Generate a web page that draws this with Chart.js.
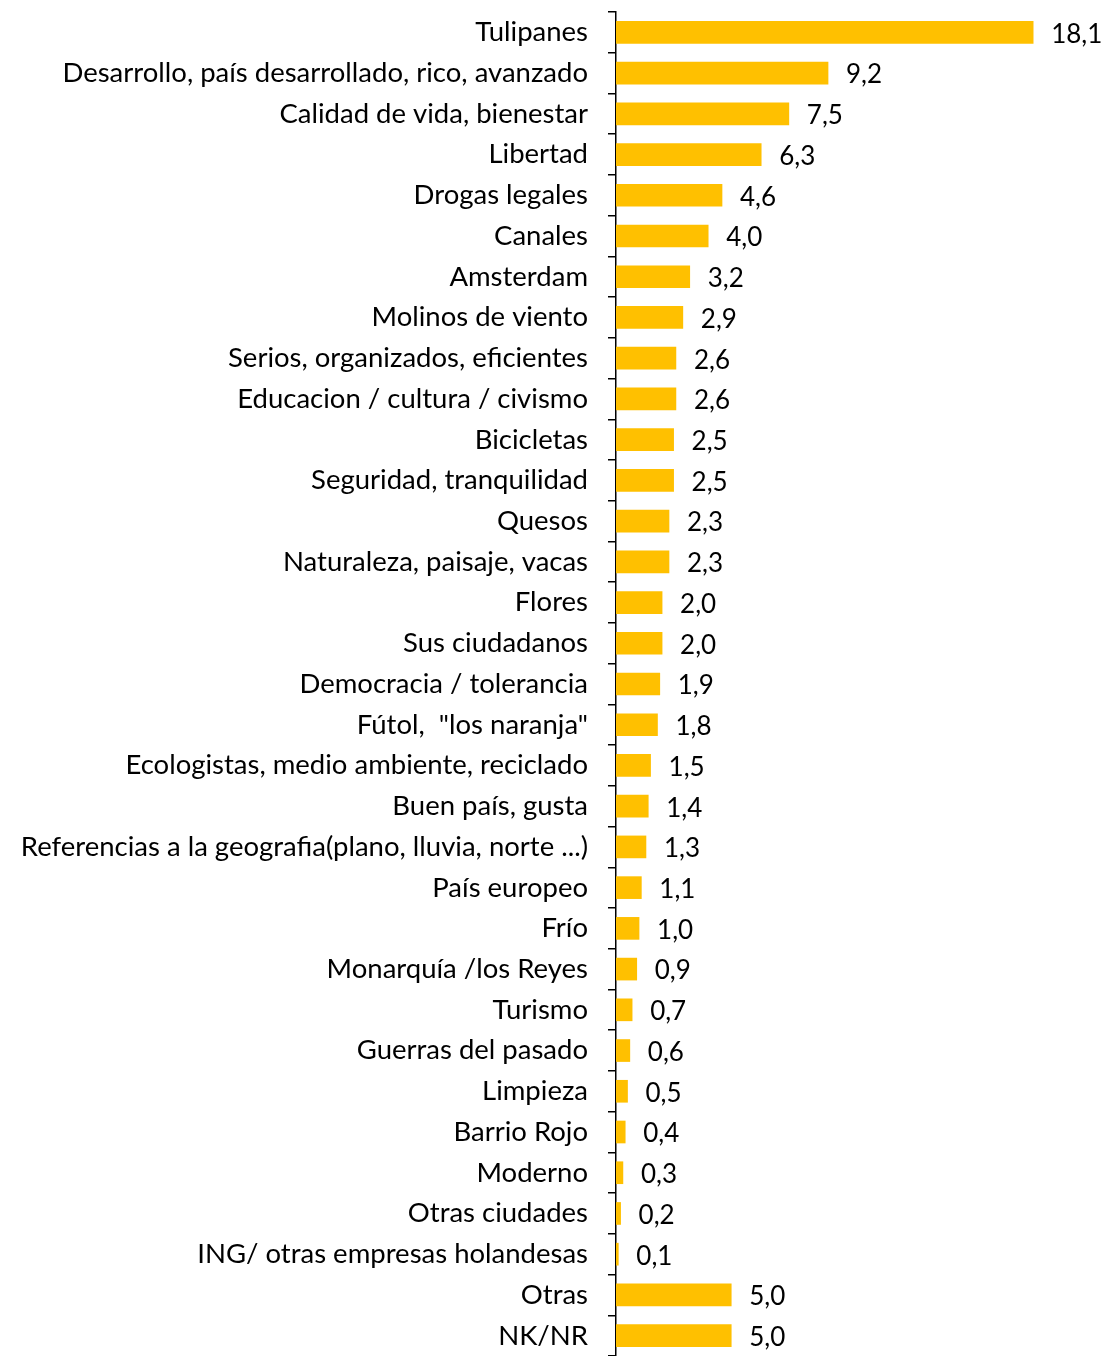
<!DOCTYPE html>
<html><head><meta charset="utf-8">
<script src="https://cdn.jsdelivr.net/npm/chart.js@4/dist/chart.umd.min.js"></script>
<style>html,body{margin:0;padding:0;background:#fff}#wrap{width:1108px;height:1356px;position:relative}</style>
</head><body><div id="wrap"><canvas id="c"></canvas></div>
<script>
const categories = ["Tulipanes","Desarrollo, país desarrollado, rico, avanzado","Calidad de vida, bienestar","Libertad","Drogas legales","Canales","Amsterdam","Molinos de viento","Serios, organizados, eficientes","Educacion / cultura / civismo","Bicicletas","Seguridad, tranquilidad","Quesos","Naturaleza, paisaje, vacas","Flores","Sus ciudadanos","Democracia / tolerancia","Fútol,  \"los naranja\"","Ecologistas, medio ambiente, reciclado","Buen país, gusta","Referencias a la geografia(plano, lluvia, norte ...)","País europeo","Frío","Monarquía /los Reyes","Turismo","Guerras del pasado","Limpieza","Barrio Rojo","Moderno","Otras ciudades","ING/ otras empresas holandesas","Otras","NK/NR"];
const values = [18.1,9.2,7.5,6.3,4.6,4.0,3.2,2.9,2.6,2.6,2.5,2.5,2.3,2.3,2.0,2.0,1.9,1.8,1.5,1.4,1.3,1.1,1.0,0.9,0.7,0.6,0.5,0.4,0.3,0.2,0.1,5.0,5.0];

const FONT = "Lato, 'Open Sans', sans-serif";
const labelPlugin = {
  id: 'vlabels',
  afterDatasetsDraw(chart) {
    const ctx = chart.ctx;
    const meta = chart.getDatasetMeta(0);
    ctx.save();
    ctx.font = "26px " + FONT;
    ctx.fillStyle = '#000';
    ctx.textAlign = 'left';
    ctx.textBaseline = 'middle';
    meta.data.forEach((bar, i) => {
      ctx.fillText(values[i].toFixed(1).replace('.', ','), bar.x + 18, bar.y + 2);
    });
    ctx.restore();
  }
};

new Chart(document.getElementById('c'), {
  type: 'bar',
  data: { labels: categories, datasets: [{ data: values, backgroundColor: '#FFC000', borderWidth: 0, barThickness: 22 }] },
  options: {
    indexAxis: 'y',
    responsive: true,
    maintainAspectRatio: false,
    animation: false,
    layout: { padding: { top: 12, bottom: 0, right: 8, left: 0 } },
    plugins: { legend: { display: false }, tooltip: { enabled: false } },
    scales: {
      x: { display: false, min: 0, max: 21 },
      y: {
        afterFit(s) { s.width = 616; s.paddingTop = 0; s.paddingBottom = 0; },
        grid: { drawOnChartArea: false, drawTicks: true, tickLength: 8, color: '#000', lineWidth: 1.5, offset: true },
        border: { color: '#000', width: 1.5 },
        ticks: { color: '#000', padding: 20, autoSkip: false, font: { family: FONT, size: 27.5 } }
      }
    }
  },
  plugins: [labelPlugin]
});
</script></body></html>
